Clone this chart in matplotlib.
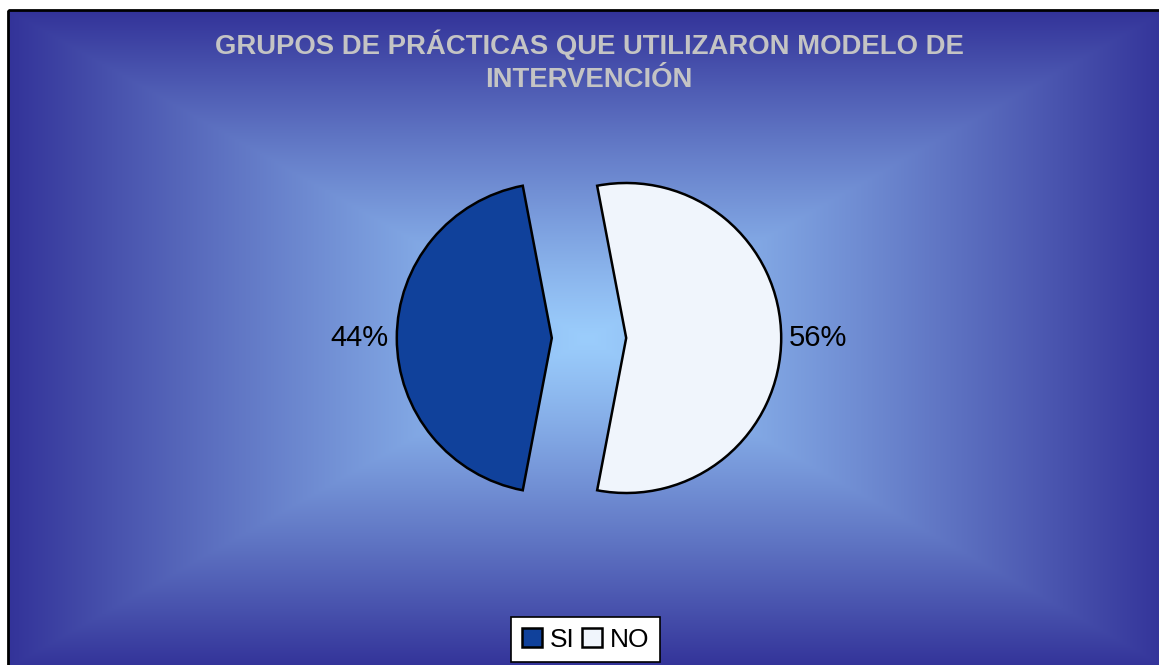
import numpy as np
import matplotlib.pyplot as plt
from matplotlib.patches import Rectangle

plt.rcParams['font.family'] = ['Liberation Sans', 'DejaVu Sans']

# datos
categorias = ['SI', 'NO']
valores = [44, 56]
colores = ['#10419B', '#F0F5FC']
titulo1 = 'GRUPOS DE PRÁCTICAS QUE UTILIZARON MODELO DE'
titulo2 = 'INTERVENCIÓN'

W, H = 1159, 665
fig = plt.figure(figsize=(W / 100, H / 100), dpi=100)
fig.patch.set_facecolor('white')

# fondo con degradado rectangular
bg = fig.add_axes([0, 0, 1, 1])
bg.set_xlim(0, W)
bg.set_ylim(H, 0)
bg.axis('off')
x0, x1, y0, y1 = 8, 1167, 10, 668
nx, ny = 600, 340
xs = np.linspace(-1, 1, nx)
ys = np.linspace(-1, 1, ny)
X, Y = np.meshgrid(xs, ys)
t = np.maximum(np.abs(X), np.abs(Y))
t = np.clip(t, 0, 1) ** 1.15
c_in = np.array([155, 205, 252]) / 255
c_out = np.array([51, 51, 153]) / 255
img = c_in[None, None, :] * (1 - t[..., None]) + c_out[None, None, :] * t[..., None]
bg.imshow(img, extent=[x0, x1, y1, y0], aspect='auto', interpolation='bilinear', zorder=0)
bg.add_patch(Rectangle((x0, y0), x1 - x0, y1 - y0, fill=False, edgecolor='black', lw=2, zorder=1))

# pastel
cx, cy, r_px = 589, 338, 155
half = 200
ax = fig.add_axes([(cx - half) / W, (H - cy - half) / H, 2 * half / W, 2 * half / H])
ax.patch.set_alpha(0)
wedges, texts, autotexts = ax.pie(valores, colors=colores, explode=[0.24, 0.24], startangle=100.8,
                                  autopct='%1.0f%%', pctdistance=1.24,
                                  wedgeprops=dict(edgecolor='black', linewidth=1.8),
                                  textprops=dict(fontsize=21, color='black'))
lim = half / r_px
ax.set_xlim(-lim, lim)
ax.set_ylim(-lim, lim)
ax.set_aspect('equal')

fig.text(589 / W, 1 - 45 / H, titulo1, ha='center', va='center', fontsize=19.8, fontweight='bold', color='#C4C4C4')
fig.text(589 / W, 1 - 80 / H, titulo2, ha='center', va='center', fontsize=19.8, fontweight='bold', color='#C4C4C4')

leg = fig.legend(wedges, categorias, loc='upper center', bbox_to_anchor=(585.5 / W, 1 - 617 / H), ncol=2,
                 fontsize=19, frameon=True, fancybox=False, framealpha=1, edgecolor='black',
                 handlelength=0.75, handleheight=0.75, handletextpad=0.3, columnspacing=0.3,
                 borderpad=0.4, borderaxespad=0)
leg.get_frame().set_linewidth(1.2)

fig.savefig('out.png', dpi=100)
